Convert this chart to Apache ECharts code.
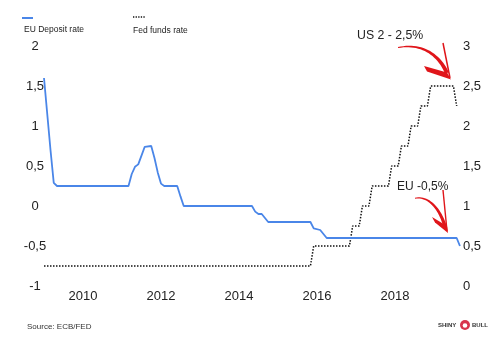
<!DOCTYPE html>
<html>
<head>
<meta charset="utf-8">
<script src="https://cdn.jsdelivr.net/npm/echarts@6/dist/echarts.min.js"></script>
<style>
  html, body { margin: 0; padding: 0; background: #fff; }
  #chart { width: 500px; height: 342px; }
</style>
</head>
<body>
<div id="chart"></div>
<script>
// ECB deposit rate (monthly), listed at the months where the line changes direction
const euMonths = ['2009-01','2009-02','2009-03','2009-04','2009-05','2011-03','2011-04','2011-05','2011-06',
  '2011-07','2011-08','2011-10','2011-11','2011-12','2012-01','2012-02','2012-06','2012-07','2012-08',
  '2014-05','2014-06','2014-07','2014-08','2014-09','2014-10','2015-11','2015-12','2016-02','2016-03',
  '2016-04','2019-08','2019-09'];
const euRates = [1.6, 1.15, 0.7, 0.29, 0.25, 0.25, 0.4, 0.49, 0.52,
  0.63, 0.74, 0.75, 0.6, 0.42, 0.28, 0.25, 0.25, 0.12, 0,
  0, -0.07, -0.1, -0.1, -0.15, -0.2, -0.2, -0.28, -0.3, -0.35,
  -0.4, -0.4, -0.5];

// Fed funds target (upper bound), monthly, at the step months
const fedMonths = ['2009-01','2015-11','2015-12','2016-11','2016-12','2017-02','2017-03','2017-05','2017-06',
  '2017-11','2017-12','2018-02','2018-03','2018-05','2018-06','2018-08','2018-09','2018-11','2018-12',
  '2019-07','2019-08'];
const fedRates = [0.25, 0.25, 0.5, 0.5, 0.75, 0.75, 1, 1, 1.25,
  1.25, 1.5, 1.5, 1.75, 1.75, 2, 2, 2.25, 2.25, 2.5,
  2.5, 2.25];

const yearLabels = [2010, 2012, 2014, 2016, 2018];
const leftTicks = { min: -1, max: 2, step: 0.5 };
const rightTicks = { min: 0, max: 3, step: 0.5 };

const toYear = s => { const [y, m] = s.split('-').map(Number); return y + (m - 1) / 12; };
const pairs = (months, vals) => months.map((m, i) => [toYear(m), vals[i]]);
const comma = v => String(v).replace('.', ',');

const BLUE = '#4a86e8';
const RED = '#e0151a';
const FONT = 'Liberation Sans, Arial, sans-serif';

// Brush-like stroke: a cubic curve whose width grows from w0 to w1, returned as a polygon outline
function taperedCurve(p0, c1, c2, p3, w0, w1) {
  const n = 24, left = [], right = [];
  for (let i = 0; i <= n; i++) {
    const t = i / n, u = 1 - t;
    const x = u*u*u*p0[0] + 3*u*u*t*c1[0] + 3*u*t*t*c2[0] + t*t*t*p3[0];
    const y = u*u*u*p0[1] + 3*u*u*t*c1[1] + 3*u*t*t*c2[1] + t*t*t*p3[1];
    const dx = 3*u*u*(c1[0]-p0[0]) + 6*u*t*(c2[0]-c1[0]) + 3*t*t*(p3[0]-c2[0]);
    const dy = 3*u*u*(c1[1]-p0[1]) + 6*u*t*(c2[1]-c1[1]) + 3*t*t*(p3[1]-c2[1]);
    const len = Math.hypot(dx, dy) || 1;
    const h = (w0 + (w1 - w0) * t) / 2;
    left.push([x - dy / len * h, y + dx / len * h]);
    right.push([x + dy / len * h, y - dx / len * h]);
  }
  return left.concat(right.reverse());
}

const chart = echarts.init(document.getElementById('chart'), null, { renderer: 'canvas' });

chart.setOption({
  animation: false,
  backgroundColor: '#fff',
  grid: { left: 44, right: 38, top: 46, bottom: 56 },
  xAxis: {
    type: 'value',
    min: 2009,
    max: 2019.72,
    interval: 1,
    axisLine: { show: false },
    axisTick: { show: false },
    splitLine: { show: false },
    axisLabel: {
      margin: 4,
      fontSize: 13,
      fontFamily: FONT,
      color: '#222',
      showMaxLabel: false,
      formatter: v => yearLabels.includes(v) ? String(v) : ''
    }
  },
  yAxis: [
    {
      type: 'value',
      min: leftTicks.min, max: leftTicks.max, interval: leftTicks.step,
      axisLine: { show: false }, axisTick: { show: false }, splitLine: { show: false },
      axisLabel: { align: 'center', margin: 9, fontSize: 13, fontFamily: FONT, color: '#222', formatter: comma }
    },
    {
      type: 'value',
      position: 'right',
      min: rightTicks.min, max: rightTicks.max, interval: rightTicks.step,
      axisLine: { show: false }, axisTick: { show: false }, splitLine: { show: false },
      axisLabel: { align: 'left', margin: 1, fontSize: 13, fontFamily: FONT, color: '#222', formatter: comma }
    }
  ],
  series: [
    {
      name: 'EU Deposit rate',
      type: 'line',
      yAxisIndex: 0,
      data: pairs(euMonths, euRates),
      showSymbol: false,
      lineStyle: { color: BLUE, width: 1.8 },
      z: 3
    },
    {
      name: 'Fed funds rate',
      type: 'line',
      yAxisIndex: 1,
      data: pairs(fedMonths, fedRates),
      showSymbol: false,
      lineStyle: { color: '#111', width: 1.5, type: [1.5, 1.5] },
      z: 2
    }
  ],
  graphic: [
    // legend: swatch above each name
    { type: 'line', shape: { x1: 22, y1: 18, x2: 33, y2: 18 }, style: { stroke: BLUE, lineWidth: 2 } },
    { type: 'text', x: 24, y: 25, style: { text: 'EU Deposit rate', font: '8.5px ' + FONT, fill: '#222' } },
    { type: 'line', shape: { x1: 133, y1: 17, x2: 145, y2: 17 }, style: { stroke: '#111', lineWidth: 1.3, lineDash: [1.3, 1.3] } },
    { type: 'text', x: 133, y: 26, style: { text: 'Fed funds rate', font: '8.5px ' + FONT, fill: '#222' } },

    // callouts
    { type: 'text', x: 357, y: 30, style: { text: 'US 2 - 2,5%', font: '12.3px ' + FONT, fill: '#222' } },
    { type: 'text', x: 397, y: 181, style: { text: 'EU -0,5%', font: '12px ' + FONT, fill: '#222' } },

    // arrow to the Fed plateau
    { type: 'polygon', shape: { points: taperedCurve([398, 47.6], [420, 43], [438, 53], [447, 73], 1, 4) }, style: { fill: RED } },
    { type: 'polygon', shape: { points: [[424, 66], [427, 71.5], [451, 79.5], [447, 72.5]] }, style: { fill: RED } },
    { type: 'line', shape: { x1: 443, y1: 43, x2: 450, y2: 78 }, style: { stroke: RED, lineWidth: 1.5 } },

    // arrow to the ECB level
    { type: 'polygon', shape: { points: taperedCurve([415, 198.2], [428, 195.5], [440, 208], [445.5, 228], 1, 3.5) }, style: { fill: RED } },
    { type: 'polygon', shape: { points: [[432, 217], [435, 222.5], [448, 233], [447, 226]] }, style: { fill: RED } },
    { type: 'line', shape: { x1: 443, y1: 190, x2: 447, y2: 231 }, style: { stroke: RED, lineWidth: 1.4 } },

    // footer
    { type: 'text', x: 27, y: 323, style: { text: 'Source: ECB/FED', font: '8px ' + FONT, fill: '#333' } },
    { type: 'text', x: 438, y: 322, style: { text: 'SHINY', font: 'bold 6px ' + FONT, fill: '#333' } },
    { type: 'circle', shape: { cx: 465, cy: 325, r: 5 }, style: { fill: '#d8344c' } },
    { type: 'circle', shape: { cx: 465, cy: 325.5, r: 2.3 }, style: { fill: '#fff' } },
    { type: 'text', x: 472, y: 322, style: { text: 'BULL', font: 'bold 6px ' + FONT, fill: '#333' } }
  ]
});
</script>
</body>
</html>
